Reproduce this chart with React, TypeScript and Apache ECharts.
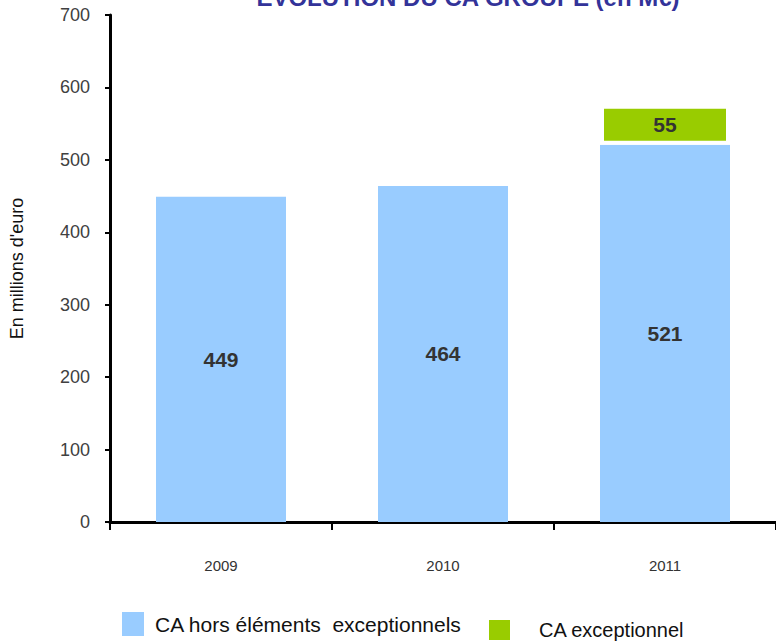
import React, { useEffect, useRef } from "react";
import * as echarts from "echarts";

const years = ["2009", "2010", "2011"];
const caHors = [449, 464, 521];
const caExc = [null, null, 55];
const yTicks = [0, 100, 200, 300, 400, 500, 600, 700];
const titleText = "EVOLUTION DU CA GROUPE (en M€)";
const yName = "En millions d'euro";
const seriesNames = ["CA hors éléments  exceptionnels", "CA exceptionnel"];

export default function App() {
  const ref = useRef<HTMLDivElement>(null);
  useEffect(() => {
    const chart = echarts.init(ref.current!, null, { renderer: "svg" });
    const font = "'Liberation Sans', Arial, sans-serif";
    chart.setOption({
      animation: false,
      textStyle: { fontFamily: font },
      graphic: [
        {
          type: "text",
          x: 468,
          y: -15,
          style: {
            text: titleText,
            textAlign: "center",
            font: "bold 24px 'Liberation Sans', Arial, sans-serif",
            fill: "#333399",
          },
        },
      ],
      legend: [
        {
          data: [seriesNames[0]],
          left: 117,
          top: 607,
          itemWidth: 22,
          itemHeight: 24,
          itemGap: 0,
          icon: "rect",
          textStyle: { fontSize: 21, color: "#111", fontFamily: font, padding: [0, 0, 0, 6] },
        },
        {
          data: [seriesNames[1]],
          left: 482,
          top: 613,
          itemWidth: 23,
          itemHeight: 22,
          icon: "rect",
          textStyle: { fontSize: 20, color: "#111", fontFamily: font, padding: [0, 0, 0, 23] },
        },
      ],
      grid: { left: 110, right: -3, top: 15, bottom: 121, containLabel: false },
      xAxis: {
        type: "category",
        data: years,
        axisLine: { lineStyle: { color: "#000", width: 3 } },
        axisTick: { show: true, length: 8, lineStyle: { color: "#000", width: 2 } },
        axisLabel: { fontSize: 15, color: "#333", margin: 36 },
      },
      yAxis: {
        type: "value",
        min: 0,
        max: 700,
        interval: 100,
        name: yName,
        nameLocation: "middle",
        nameGap: 84,
        nameRotate: 90,
        nameTextStyle: { fontSize: 18, color: "#111" },
        axisLine: { show: true, lineStyle: { color: "#000", width: 3 } },
        axisTick: { show: true, length: 5, lineStyle: { color: "#000", width: 2 } },
        axisLabel: {
          fontSize: 18,
          color: "#404040",
          margin: 20,
          formatter: (v: number) => (yTicks.includes(v) ? String(v) : ""),
        },
        splitLine: { show: false },
      },
      series: [
        {
          name: seriesNames[0],
          type: "bar",
          stack: "ca",
          data: caHors,
          barWidth: 130,
          itemStyle: { color: "#99CCFF" },
          label: {
            show: true,
            position: "inside",
            fontSize: 21,
            fontWeight: "bold",
            color: "#333",
          },
        },
        {
          name: seriesNames[1],
          type: "bar",
          stack: "ca",
          data: caExc,
          barWidth: 130,
          itemStyle: { color: "#99CC00", borderColor: "#fff", borderWidth: 4 },
          label: {
            show: true,
            position: "inside",
            fontSize: 21,
            fontWeight: "bold",
            color: "#333",
          },
        },
      ],
    });
    return () => chart.dispose();
  }, []);
  return <div ref={ref} style={{ width: 776, height: 643, position: "absolute", left: 0, top: 0 }} />;
}
